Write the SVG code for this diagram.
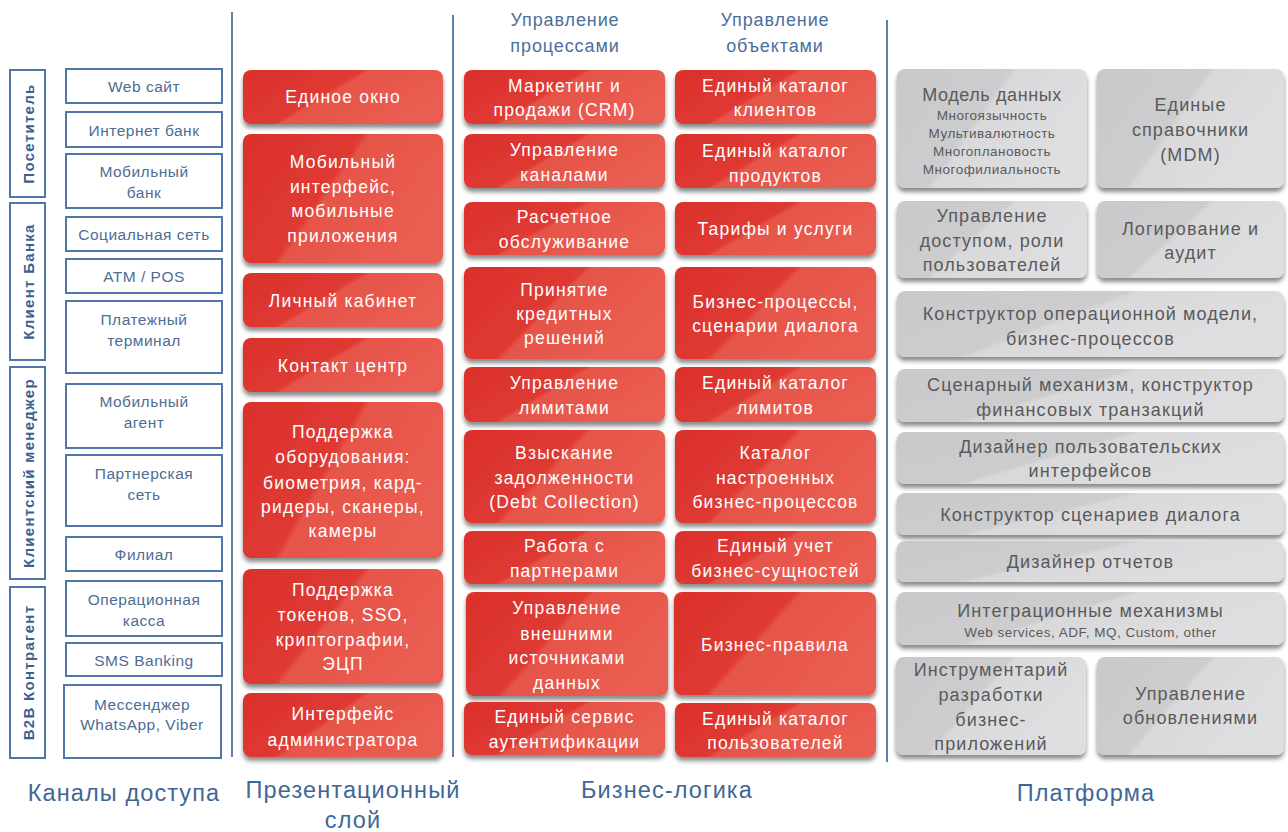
<svg xmlns="http://www.w3.org/2000/svg" width="1288" height="832" viewBox="0 0 1288 832">
<defs>
<linearGradient id="rg" x1="0" y1="0" x2="1" y2="0.45">
<stop offset="0" stop-color="#da302b"/>
<stop offset="0.5" stop-color="#df3a33"/>
<stop offset="0.53" stop-color="#e65449"/>
<stop offset="1" stop-color="#ea5d51"/>
</linearGradient>
<linearGradient id="gg" x1="0" y1="0" x2="1" y2="0.45">
<stop offset="0" stop-color="#c9c9cb"/>
<stop offset="0.5" stop-color="#cdcdcf"/>
<stop offset="0.53" stop-color="#d9d9db"/>
<stop offset="1" stop-color="#dfdfe1"/>
</linearGradient>
<filter id="sh" x="-5%" y="-10%" width="110%" height="135%">
<feDropShadow dx="0" dy="4" stdDeviation="2.2" flood-color="#000" flood-opacity="0.45"/>
</filter>
<style>
.red{fill:url(#rg);filter:url(#sh)}
.gray{fill:url(#gg);filter:url(#sh)}
.ch{fill:#fff;stroke:#4f76a6;stroke-width:2}
.div{stroke:#5d80ab;stroke-width:2}
.rt{font-family:"Liberation Sans",Arial,sans-serif;font-size:17.5px;fill:#fff;text-anchor:middle;letter-spacing:1.2px}
.gt{font-family:"Liberation Sans",Arial,sans-serif;font-size:18px;fill:#5a5a5a;text-anchor:middle;letter-spacing:1.1px}
.gs{font-family:"Liberation Sans",Arial,sans-serif;font-size:13.5px;fill:#5a5a5a;text-anchor:middle;letter-spacing:0.5px}
.ct{font-family:"Liberation Sans",Arial,sans-serif;font-size:15.5px;fill:#4d6d94;text-anchor:middle;letter-spacing:0.5px}
.cat{font-family:"Liberation Sans",Arial,sans-serif;font-size:15px;font-weight:bold;fill:#3b5f8f;text-anchor:middle;letter-spacing:1.3px}
.hd{font-family:"Liberation Sans",Arial,sans-serif;font-size:18px;fill:#4a6f9a;text-anchor:middle;letter-spacing:0.9px}
.ft{font-family:"Liberation Sans",Arial,sans-serif;font-size:23.5px;fill:#3f6796;text-anchor:middle;letter-spacing:1.1px}
</style>
</defs>
<rect width="1288" height="832" fill="#fff"/>

<g id="dividers">
<line class="div" x1="232" y1="12" x2="232" y2="757"/>
<line class="div" x1="453" y1="15" x2="453" y2="757"/>
<line class="div" x1="887" y1="20" x2="887" y2="762"/>
</g>
<g id="connectors"/>

<!-- Categories -->
<g id="cat-posetitel"><rect class="ch" x="10" y="70" width="35" height="127"/><text class="cat" transform="translate(28,133.5) rotate(-90)" y="5.5">Посетитель</text></g>
<g id="cat-klient"><rect class="ch" x="10" y="203" width="35" height="157"/><text class="cat" transform="translate(28,281.5) rotate(-90)" y="5.5">Клиент Банка</text></g>
<g id="cat-manager"><rect class="ch" x="10" y="367" width="35" height="212"/><text class="cat" transform="translate(28,473) rotate(-90)" y="5.5">Клиентский менеджер</text></g>
<g id="cat-b2b"><rect class="ch" x="10" y="587" width="35" height="171"/><text class="cat" transform="translate(28,672.5) rotate(-90)" y="5.5">B2B Контрагент</text></g>

<!-- Channels -->
<g id="ch-web"><rect class="ch" x="66" y="69" width="156" height="34"/><text class="ct" x="144" y="91.5">Web сайт</text></g>
<g id="ch-inet"><rect class="ch" x="66" y="112" width="156" height="35"/><text class="ct" x="144" y="135.5">Интернет банк</text></g>
<g id="ch-mob"><rect class="ch" x="66" y="154" width="156" height="54"/><text class="ct" x="144" y="176.5">Мобильный</text><text class="ct" x="144" y="197.5">банк</text></g>
<g id="ch-soc"><rect class="ch" x="66" y="217" width="156" height="34"/><text class="ct" x="144" y="239.5">Социальная сеть</text></g>
<g id="ch-atm"><rect class="ch" x="66" y="259" width="156" height="34"/><text class="ct" x="144" y="281.5">ATM / POS</text></g>
<g id="ch-term"><rect class="ch" x="66" y="301" width="156" height="72"/><text class="ct" x="144" y="324.5">Платежный</text><text class="ct" x="144" y="345.5">терминал</text></g>
<g id="ch-agent"><rect class="ch" x="66" y="384" width="156" height="64"/><text class="ct" x="144" y="406.5">Мобильный</text><text class="ct" x="144" y="427.5">агент</text></g>
<g id="ch-partner"><rect class="ch" x="66" y="455" width="156" height="71"/><text class="ct" x="144" y="478.5">Партнерская</text><text class="ct" x="144" y="499.5">сеть</text></g>
<g id="ch-filial"><rect class="ch" x="66" y="537" width="156" height="34"/><text class="ct" x="144" y="559.5">Филиал</text></g>
<g id="ch-kassa"><rect class="ch" x="66" y="581" width="156" height="55"/><text class="ct" x="144" y="604.5">Операционная</text><text class="ct" x="144" y="625.5">касса</text></g>
<g id="ch-sms"><rect class="ch" x="66" y="643" width="156" height="33"/><text class="ct" x="144" y="665.5">SMS Banking</text></g>
<g id="ch-msg"><rect class="ch" x="64" y="685" width="157" height="73"/><text class="ct" x="142" y="709.5">Мессенджер</text><text class="ct" x="142" y="729.5">WhatsApp, Viber</text></g>

<!-- Presentation layer -->
<g id="p-okno"><rect class="red" x="243" y="70" width="200" height="54" rx="8"/><text class="rt" x="343" y="103">Единое окно</text></g>
<g id="p-mob"><rect class="red" x="243" y="134" width="200" height="129" rx="8"/><text class="rt" x="343" y="168">Мобильный</text><text class="rt" x="343" y="193">интерфейс,</text><text class="rt" x="343" y="217">мобильные</text><text class="rt" x="343" y="242">приложения</text></g>
<g id="p-lk"><rect class="red" x="243" y="273" width="200" height="54" rx="8"/><text class="rt" x="343" y="307">Личный кабинет</text></g>
<g id="p-cc"><rect class="red" x="243" y="338" width="200" height="54" rx="8"/><text class="rt" x="343" y="372">Контакт центр</text></g>
<g id="p-hw"><rect class="red" x="243" y="402" width="200" height="156" rx="8"/><text class="rt" x="343" y="438">Поддержка</text><text class="rt" x="343" y="463">оборудования:</text><text class="rt" x="343" y="489">биометрия, кард-</text><text class="rt" x="343" y="513">ридеры, сканеры,</text><text class="rt" x="343" y="537">камеры</text></g>
<g id="p-tok"><rect class="red" x="243" y="569" width="200" height="115" rx="8"/><text class="rt" x="343" y="596">Поддержка</text><text class="rt" x="343" y="621">токенов, SSO,</text><text class="rt" x="343" y="646">криптографии,</text><text class="rt" x="343" y="670">ЭЦП</text></g>
<g id="p-adm"><rect class="red" x="243" y="693" width="200" height="64" rx="8"/><text class="rt" x="343" y="720">Интерфейс</text><text class="rt" x="343" y="746">администратора</text></g>

<!-- Business logic headers -->
<g id="h-proc"><text class="hd" x="565" y="26">Управление</text><text class="hd" x="565" y="52">процессами</text></g>
<g id="h-obj"><text class="hd" x="775" y="26">Управление</text><text class="hd" x="775" y="52">объектами</text></g>

<!-- Business logic: processes -->
<g id="b-crm"><rect class="red" x="464" y="70" width="201" height="54" rx="8"/><text class="rt" x="564.5" y="92">Маркетинг и</text><text class="rt" x="564.5" y="116">продажи (CRM)</text></g>
<g id="b-chan"><rect class="red" x="464" y="134" width="201" height="54" rx="8"/><text class="rt" x="564.5" y="156">Управление</text><text class="rt" x="564.5" y="181">каналами</text></g>
<g id="b-rko"><rect class="red" x="464" y="202" width="201" height="53" rx="8"/><text class="rt" x="564.5" y="223">Расчетное</text><text class="rt" x="564.5" y="248">обслуживание</text></g>
<g id="b-credit"><rect class="red" x="464" y="267" width="201" height="92" rx="8"/><text class="rt" x="564.5" y="296">Принятие</text><text class="rt" x="564.5" y="320">кредитных</text><text class="rt" x="564.5" y="344">решений</text></g>
<g id="b-lim"><rect class="red" x="464" y="367" width="201" height="55" rx="8"/><text class="rt" x="564.5" y="389">Управление</text><text class="rt" x="564.5" y="414">лимитами</text></g>
<g id="b-debt"><rect class="red" x="464" y="430" width="201" height="93" rx="8"/><text class="rt" x="564.5" y="459">Взыскание</text><text class="rt" x="564.5" y="484">задолженности</text><text class="rt" x="564.5" y="508">(Debt Collection)</text></g>
<g id="b-partn"><rect class="red" x="464" y="531" width="201" height="53" rx="8"/><text class="rt" x="564.5" y="552">Работа с</text><text class="rt" x="564.5" y="577">партнерами</text></g>
<g id="b-ext"><rect class="red" x="466" y="592" width="202" height="104" rx="8"/><text class="rt" x="567" y="614">Управление</text><text class="rt" x="567" y="640">внешними</text><text class="rt" x="567" y="664">источниками</text><text class="rt" x="567" y="689">данных</text></g>
<g id="b-auth"><rect class="red" x="464" y="702" width="201" height="53" rx="8"/><text class="rt" x="564.5" y="723">Единый сервис</text><text class="rt" x="564.5" y="748">аутентификации</text></g>

<!-- Business logic: objects -->
<g id="o-cli"><rect class="red" x="675" y="70" width="201" height="54" rx="8"/><text class="rt" x="775.5" y="92">Единый каталог</text><text class="rt" x="775.5" y="116">клиентов</text></g>
<g id="o-prod"><rect class="red" x="675" y="134" width="201" height="54" rx="8"/><text class="rt" x="775.5" y="157">Единый каталог</text><text class="rt" x="775.5" y="182">продуктов</text></g>
<g id="o-tar"><rect class="red" x="675" y="202" width="201" height="53" rx="8"/><text class="rt" x="775.5" y="235">Тарифы и услуги</text></g>
<g id="o-bp"><rect class="red" x="675" y="267" width="201" height="92" rx="8"/><text class="rt" x="775.5" y="308">Бизнес-процессы,</text><text class="rt" x="775.5" y="332">сценарии диалога</text></g>
<g id="o-lim"><rect class="red" x="675" y="367" width="201" height="55" rx="8"/><text class="rt" x="775.5" y="389">Единый каталог</text><text class="rt" x="775.5" y="414">лимитов</text></g>
<g id="o-cat"><rect class="red" x="675" y="430" width="201" height="93" rx="8"/><text class="rt" x="775.5" y="459">Каталог</text><text class="rt" x="775.5" y="484">настроенных</text><text class="rt" x="775.5" y="508">бизнес-процессов</text></g>
<g id="o-ent"><rect class="red" x="675" y="531" width="201" height="53" rx="8"/><text class="rt" x="775.5" y="552">Единый учет</text><text class="rt" x="775.5" y="577">бизнес-сущностей</text></g>
<g id="o-rules"><rect class="red" x="674" y="592" width="202" height="103" rx="8"/><text class="rt" x="775" y="651">Бизнес-правила</text></g>
<g id="o-users"><rect class="red" x="675" y="703" width="201" height="54" rx="8"/><text class="rt" x="775.5" y="725">Единый каталог</text><text class="rt" x="775.5" y="749">пользователей</text></g>

<!-- Platform -->
<g id="pl-model"><rect class="gray" x="897" y="69" width="190" height="119" rx="8"/><text class="gt" x="992" y="101" style="letter-spacing:0.6px">Модель данных</text><text class="gs" x="992" y="120">Многоязычность</text><text class="gs" x="992" y="138">Мультивалютность</text><text class="gs" x="992" y="156">Многоплановость</text><text class="gs" x="992" y="174">Многофилиальность</text></g>
<g id="pl-mdm"><rect class="gray" x="1097" y="69" width="187" height="119" rx="8"/><text class="gt" x="1190.5" y="111">Единые</text><text class="gt" x="1190.5" y="136">справочники</text><text class="gt" x="1190.5" y="161">(MDM)</text></g>
<g id="pl-access"><rect class="gray" x="897" y="201" width="190" height="77" rx="8"/><text class="gt" x="992" y="222">Управление</text><text class="gt" x="992" y="247">доступом, роли</text><text class="gt" x="992" y="271">пользователей</text></g>
<g id="pl-log"><rect class="gray" x="1097" y="201" width="187" height="77" rx="8"/><text class="gt" x="1190.5" y="235">Логирование и</text><text class="gt" x="1190.5" y="259">аудит</text></g>
<g id="pl-opmodel"><rect class="gray" x="897" y="291" width="387" height="66" rx="8"/><text class="gt" x="1090.5" y="320">Конструктор операционной модели,</text><text class="gt" x="1090.5" y="345">бизнес-процессов</text></g>
<g id="pl-scen"><rect class="gray" x="897" y="369" width="387" height="53" rx="8"/><text class="gt" x="1090.5" y="391">Сценарный механизм, конструктор</text><text class="gt" x="1090.5" y="416">финансовых транзакций</text></g>
<g id="pl-ui"><rect class="gray" x="897" y="432" width="387" height="52" rx="8"/><text class="gt" x="1090.5" y="453">Дизайнер пользовательских</text><text class="gt" x="1090.5" y="477">интерфейсов</text></g>
<g id="pl-dialog"><rect class="gray" x="897" y="493" width="387" height="42" rx="8"/><text class="gt" x="1090.5" y="521">Конструктор сценариев диалога</text></g>
<g id="pl-rep"><rect class="gray" x="897" y="541" width="387" height="41" rx="8"/><text class="gt" x="1090.5" y="568">Дизайнер отчетов</text></g>
<g id="pl-int"><rect class="gray" x="897" y="592" width="387" height="53" rx="8"/><text class="gt" x="1090.5" y="617">Интеграционные механизмы</text><text class="gs" x="1090.5" y="637">Web services, ADF, MQ, Custom, other</text></g>
<g id="pl-dev"><rect class="gray" x="896" y="657" width="190" height="98" rx="8"/><text class="gt" x="991" y="676">Инструментарий</text><text class="gt" x="991" y="701">разработки</text><text class="gt" x="991" y="726">бизнес-</text><text class="gt" x="991" y="750">приложений</text></g>
<g id="pl-upd"><rect class="gray" x="1097" y="657" width="187" height="98" rx="8"/><text class="gt" x="1190.5" y="700">Управление</text><text class="gt" x="1190.5" y="724">обновлениями</text></g>

<!-- Layer labels -->
<g id="labels">
<text class="ft" x="124" y="801">Каналы доступа</text>
<text class="ft" x="353" y="798">Презентационный</text>
<text class="ft" x="353" y="828">слой</text>
<text class="ft" x="667" y="798">Бизнес-логика</text>
<text class="ft" x="1086" y="801">Платформа</text>
</g>
</svg>
